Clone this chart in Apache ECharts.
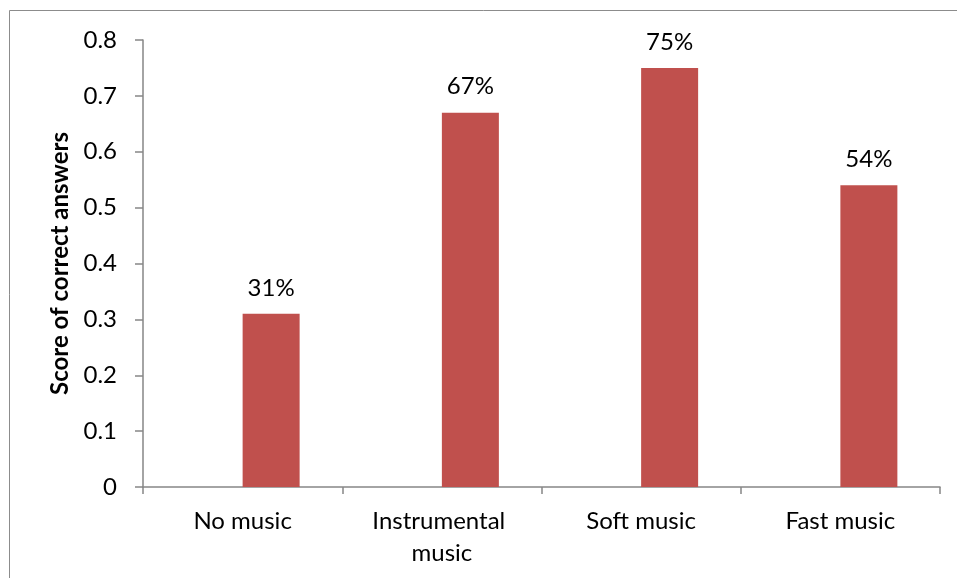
<!DOCTYPE html>
<html>
<head>
<meta charset="utf-8">
<script src="https://cdn.jsdelivr.net/npm/echarts@6/dist/echarts.min.js"></script>
<style>
  html, body { margin: 0; padding: 0; background: #fff; }
  #chart { width: 957px; height: 578px; }
</style>
</head>
<body>
<div id="chart"></div>
<script>
// Share of correct answers under each listening condition
const categories = ['No music', 'Instrumental music', 'Soft music', 'Fast music'];
const scores = [0.31, 0.67, 0.75, 0.54];
const yTicks = { min: 0, max: 0.8, interval: 0.1 };

const FONT = 'Lato, "Open Sans", sans-serif';
const AXIS_GRAY = '#868686';

const chart = echarts.init(document.getElementById('chart'), null, { renderer: 'canvas' });

chart.setOption({
  backgroundColor: '#ffffff',
  animation: false,
  graphic: [{
    type: 'rect',
    shape: { x: 9.5, y: 10.5, width: 1200, height: 1200 },
    style: { fill: 'none', stroke: '#8c8c8c', lineWidth: 1 },
    silent: true
  }],
  grid: { left: 143, right: 17, top: 40, bottom: 91 },
  xAxis: {
    type: 'category',
    data: categories,
    boundaryGap: true,
    axisLine: { lineStyle: { color: AXIS_GRAY, width: 1.5 } },
    axisTick: { show: true, length: 7, lineStyle: { color: AXIS_GRAY, width: 1.5 } },
    axisLabel: {
      color: '#000',
      fontFamily: FONT,
      fontSize: 24,
      lineHeight: 32,
      margin: 18,
      width: 170,
      overflow: 'break',
      interval: 0
    },
    splitLine: { show: false }
  },
  yAxis: {
    type: 'value',
    min: yTicks.min,
    max: yTicks.max,
    interval: yTicks.interval,
    name: 'Score of correct answers',
    nameLocation: 'middle',
    nameGap: 68,
    nameTextStyle: { color: '#000', fontFamily: FONT, fontSize: 24, fontWeight: 'bold' },
    axisLine: { show: true, lineStyle: { color: AXIS_GRAY, width: 1.5 } },
    axisTick: { show: true, length: 8, lineStyle: { color: AXIS_GRAY, width: 1.5 } },
    axisLabel: {
      color: '#000',
      fontFamily: FONT,
      fontSize: 24,
      margin: 26,
      formatter: v => String(Math.round(v * 10) / 10)
    },
    splitLine: { show: false }
  },
  series: [
    {
      // empty companion series keeps each bar in the right half of its slot
      type: 'bar',
      data: categories.map(() => null),
      barWidth: 57,
      barGap: '0%'
    },
    {
      type: 'bar',
      data: scores,
      barWidth: 57,
      barGap: '0%',
      itemStyle: { color: '#C0504D' },
      label: {
        show: true,
        position: 'top',
        distance: 14,
        color: '#000',
        fontFamily: FONT,
        fontSize: 24,
        formatter: p => Math.round(p.value * 100) + '%'
      }
    }
  ]
});
</script>
</body>
</html>
